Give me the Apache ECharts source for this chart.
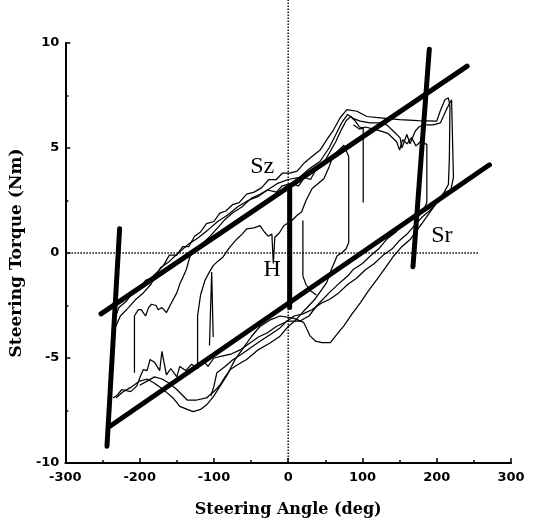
<!DOCTYPE html>
<html><head><meta charset="utf-8">
<script src="https://cdn.jsdelivr.net/npm/echarts@6/dist/echarts.min.js"></script>
<style>html,body{margin:0;padding:0;background:#fff}#c{width:536px;height:531px}</style>
</head><body><div id="c"></div>
<script>
// ---- tick / axis values ----
const xTicks = [-300, -200, -100, 0, 100, 200, 300];
const yTicks = [-10, -5, 0, 5, 10];

// ---- thick fitted lines ----
const szLine = [[-252, -2.9], [241, 8.9]];
const srLine = [[-240, -8.25], [271, 4.2]];
const leftLine = [[-227, 1.15], [-244, -9.2]];
const rightLine = [[190, 9.7], [168, -0.65]];
const hLine = [[2, 3.1], [2, -2.6]];

// ---- dotted zero lines ----
const zeroV = [[0, -10], [0, 12.1]];
const zeroH = [[-300, 0], [257, 0]];

// ---- measured hysteresis loops (thin) ----
const loopA = [[-236,-3.4],[-228,-2.6],[-218,-2.3],[-210,-1.9],[-200,-1.7],[-192,-1.3],[-185,-1.2],[-176,-0.9],[-168,-0.6],[-160,-0.1],[-150,-0.1],[-142,0.3],[-134,0.3],[-126,0.8],[-118,1.0],[-110,1.4],[-100,1.5],[-92,1.9],[-84,2.0],[-75,2.3],[-66,2.4],[-56,2.8],[-46,2.9],[-36,3.1],[-26,3.5],[-16,3.5],[-8,3.8],[2,3.8],[12,3.9],[22,4.3],[32,4.6],[43,4.9],[52,5.4],[60,5.8],[70,6.44],[79,6.83],[92.5,6.75],[106,6.5],[124,6.44],[150,6.35],[175,6.3],[200,6.28],[204.6,6.75],[211,7.3],[215.7,7.39],[217.8,7.0],[217,4.5],[215.7,3.26],[210,2.9],[200,2.4],[190,2.0],[180,1.7],[170,1.3],[160,0.9],[150,0.6],[140,0.2],[128,-0.1],[116,-0.5],[104,-0.8],[92,-1.2],[80,-1.5],[68,-1.9],[56,-2.2],[44,-2.4],[32,-2.7],[20,-2.9],[8,-3.0],[-4,-3.3],[-16,-3.5],[-28,-3.8],[-40,-4.0],[-52,-4.3],[-64,-4.6],[-76,-4.8],[-88,-4.9],[-100,-5.0],[-108,-5.4],[-115,-5.1],[-122,-5.5],[-130,-5.3],[-138,-5.6],[-146,-5.4],[-150,-5.9],[-158,-5.5],[-164,-5.8],[-170,-4.68],[-173,-5.6],[-180,-5.2],[-186,-5.07],[-190,-5.6],[-195,-5.55],[-199,-5.87],[-204,-6.34],[-212,-6.6],[-224,-6.5],[-231,-6.8],[-236,-6.9]];

const loopB = [[-236,-3.8],[-226,-3.0],[-215,-2.6],[-205,-2.2],[-195,-1.9],[-185,-1.5],[-172,-0.7],[-160,-0.4],[-148,0.0],[-135,0.4],[-122,0.7],[-108,1.1],[-95,1.5],[-82,1.8],[-68,2.2],[-54,2.5],[-40,2.7],[-28,3.0],[-15,3.3],[0,3.5],[15,3.6],[28,4.0],[43,4.37],[55,5.0],[65,5.7],[72,6.2],[80,6.6],[88,6.4],[97,6.28],[110,6.2],[122,6.2],[132.8,6.1],[141.7,5.8],[150.7,5.48],[153,5.0],[159.8,5.64],[164,5.2],[171,5.8],[176,6.0],[182,6.1],[195,6.1],[205,6.2],[214,6.9],[220,7.3],[222.5,7.23],[222.5,3.6],[219,3.0],[212,2.9],[205,2.6],[196,2.2],[190,1.9],[178,1.3],[164.9,0.67],[153,0.3],[142.3,-0.13],[131,-0.7],[119.8,-1.24],[108,-1.8],[97.3,-2.36],[86,-2.9],[74.7,-3.48],[65,-3.9],[56.8,-4.27],[45.5,-4.27],[37,-4.2],[29.7,-3.96],[20.7,-3.3],[7,-3.1],[-11,-3.0],[-25,-3.2],[-38,-3.5],[-50,-4.0],[-62,-4.6],[-72,-5.1],[-82,-5.8],[-92,-6.35],[-100,-6.8],[-109,-7.2],[-118,-7.45],[-128,-7.55],[-136,-7.45],[-146,-7.3],[-155,-6.9],[-163,-6.66],[-172,-6.4],[-180,-6.2],[-190,-6.0],[-200,-6.1],[-212,-6.4],[-222,-6.6],[-232,-6.9]];

const loopC = [[-122,-5.5],[-122,-3.0],[-118,-2.0],[-112,-1.3],[-106,-0.9],[-101,-0.6],[-95,-0.4],[-88,-0.2],[-78,0.3],[-69,0.67],[-62,0.9],[-56,1.15],[-46,1.2],[-38,1.3],[-32,1.0],[-27,0.8],[-22,0.9],[-20,-0.5],[-18,0.75],[-12,0.95],[-6,1.3],[5,1.55],[12,1.8],[18,1.95],[24,2.5],[32,3.06],[40,3.3],[48,3.54],[55,4.1],[61,4.66],[68,4.9],[75,5.13],[79,4.8],[81.5,4.6],[81.5,0.5],[78,0.2],[72,0.0],[66,-0.13],[58,-0.8],[52,-1.4],[44,-1.8],[36,-2.2],[28,-2.5],[20,-2.8],[10,-3.2],[0,-3.5],[-11,-3.96],[-25,-4.3],[-40,-4.6],[-56,-5.07],[-67,-5.3],[-78,-5.55],[-85,-5.9],[-92,-6.3],[-100,-6.6],[-110,-6.9],[-123,-7.0],[-136,-7.0],[-150,-6.5],[-160,-6.2],[-170,-6.0],[-180,-5.9],[-190,-6.1],[-200,-6.3]];

const loopD = [[-207,-5.7],[-207,-3.0],[-202,-2.7],[-198,-2.7],[-192,-3.0],[-188,-2.6],[-184,-2.44],[-178,-2.5],[-175,-2.7],[-170,-2.6],[-164,-2.84],[-157,-2.36],[-150,-1.9],[-146,-1.48],[-141,-1.1],[-137,-0.77],[-132,-0.13],[-127,0.0],[-121,0.19],[-114,0.5],[-105,0.8],[-95,1.2],[-85,1.6],[-75,1.9],[-62,2.2],[-50,2.6],[-38,2.8],[-28,3.0],[-16,2.9],[-8,3.2],[4,3.3],[14,3.2],[22,3.6],[30,3.5],[38,4.0],[48,4.3],[56,4.8],[64,5.3],[72,5.9],[78,6.3],[84,6.5],[90,6.3],[96,6.0],[101,5.96],[101,2.4]];

const loopE = [[88,6.1],[96,5.9],[104,6.0],[115,5.9],[125,5.8],[134,5.7],[140,5.5],[146,5.3],[150,4.9],[154,5.4],[160,5.2],[166,5.5],[172,5.1],[178,5.3],[186.7,5.17],[186.7,2.4],[183,2.1],[176,1.8],[168,1.6],[160,1.5],[156,1.47],[145,1.0],[133,0.67],[122,0.2],[110.8,-0.13],[100,-0.5],[88,-0.77],[80,-1.1],[70,-1.4],[55,-1.9],[38.7,-2.5],[28,-3.0],[16,-3.24],[-1.8,-3.24],[-12,-3.6],[-25,-3.9],[-38,-4.2],[-50,-4.5],[-62,-4.8],[-75,-5.1],[-85,-5.4],[-96,-5.7],[-100,-6.34],[-104,-6.8]];

const segF = [[19.8,1.55],[19.8,-1.1],[24,-1.5],[30,-1.8],[38,-2.0]];
const spikeG = [[-106,-4.4],[-103,-0.9],[-101,-4.0]];

// ---- annotation labels ----
const notes = [["Sz", -35, 4.12], ["H", -21.5, -0.79], ["Sr", 207, 0.83]];

const chart = echarts.init(document.getElementById('c'), null, {renderer: 'canvas'});
const thin = d => ({type:'line', data:d, symbol:'none', silent:true, lineStyle:{color:'#000', width:1.25}, z:3});
const thick = d => ({type:'line', data:d, symbol:'none', silent:true, lineStyle:{color:'#000', width:5, cap:'round'}, z:5});
const dotted = d => ({type:'line', data:d, symbol:'none', silent:true, clip:false, lineStyle:{color:'#000', width:1.4, type:[1.5,1.5]}, z:2});

chart.setOption({
  animation: false,
  backgroundColor: '#fff',
  grid: {left: 65, right: 25, top: 43, bottom: 68, containLabel: false},
  xAxis: {
    type: 'value', min: -300, max: 300, interval: 100,
    splitLine: {show: false},
    axisLine: {onZero: false, lineStyle: {color: '#000', width: 2}},
    axisTick: {inside: true, length: 5, lineStyle: {color: '#000', width: 1.5}},
    minorTick: {show: true, splitNumber: 2, length: 3, lineStyle: {color: '#000', width: 1.5}},
    axisLabel: {color: '#000', fontFamily: 'DejaVu Sans', fontWeight: 'bold', fontSize: 13, margin: 8,
      formatter: v => xTicks.includes(v) ? String(v) : ''},
    name: 'Steering Angle (deg)', nameLocation: 'middle', nameGap: 39,
    nameTextStyle: {color: '#000', fontFamily: 'DejaVu Serif', fontWeight: 'bold', fontSize: 16}
  },
  yAxis: {
    type: 'value', min: -10, max: 10, interval: 5,
    splitLine: {show: false},
    axisLine: {onZero: false, lineStyle: {color: '#000', width: 2}},
    axisTick: {inside: true, length: 5, lineStyle: {color: '#000', width: 1.5}},
    minorTick: {show: true, splitNumber: 2, length: 3, lineStyle: {color: '#000', width: 1.5}},
    axisLabel: {color: '#000', fontFamily: 'DejaVu Sans', fontWeight: 'bold', fontSize: 13, margin: 6,
      formatter: v => yTicks.includes(v) ? String(v) : ''},
    name: 'Steering Torque (Nm)', nameLocation: 'middle', nameGap: 33,
    nameTextStyle: {color: '#000', fontFamily: 'DejaVu Serif', fontWeight: 'bold', fontSize: 17}
  },
  series: [
    dotted(zeroV), dotted(zeroH),
    thin(loopA), thin(loopB), thin(loopC), thin(loopD), thin(loopE), thin(segF), thin(spikeG),
    thick(szLine), thick(srLine), thick(leftLine), thick(rightLine), thick(hLine),
    {type: 'scatter', silent: true, symbolSize: 0, z: 6, itemStyle: {opacity: 1},
      data: notes.map(n => ({name: n[0], value: [n[1], n[2]]})),
      label: {show: true, position: 'inside', formatter: p => p.name, color: '#000', opacity: 1,
        fontFamily: 'Liberation Serif', fontSize: 24}}
  ]
});
</script></body></html>
